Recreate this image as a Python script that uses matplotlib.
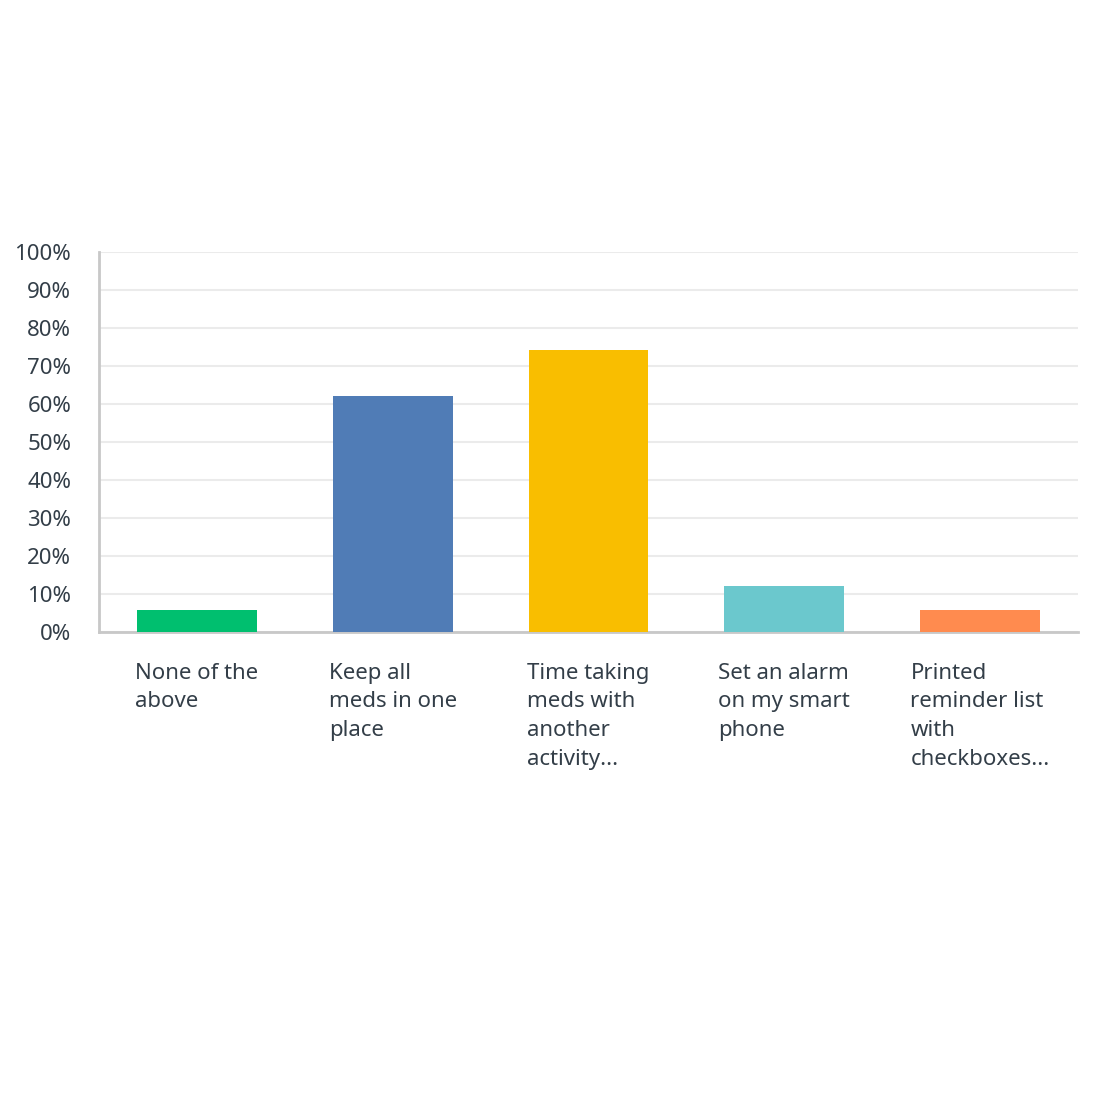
import matplotlib
matplotlib.use("Agg")
import matplotlib.pyplot as plt
from matplotlib.ticker import FuncFormatter, MultipleLocator

categories = ["None of the\nabove", "Keep all\nmeds in one\nplace", "Time taking\nmeds with\nanother\nactivity...",
              "Set an alarm\non my smart\nphone", "Printed\nreminder list\nwith\ncheckboxes..."]
values = [5.9, 62.2, 74.2, 12.2, 5.9]
colors = ["#00bf6f", "#507cb6", "#f9be00", "#6bc8cd", "#ff8b4f"]

plt.rcParams['font.family'] = ['Noto Sans', 'DejaVu Sans']
text_color = "#333e48"

fig = plt.figure(figsize=(11, 11), dpi=100)
ax = fig.add_axes([0.09, 0.4255, 0.89, 0.3455])
x = list(range(len(categories)))
ax.bar(x, values, width=0.612, color=colors, zorder=3)
ax.set_xlim(-0.5, len(categories) - 0.5)
ax.set_ylim(0, 100)
ax.yaxis.set_major_locator(MultipleLocator(10))
ax.yaxis.set_major_formatter(FuncFormatter(lambda v, p: f"{int(v)}%"))
ax.grid(axis='y', color="#ebebeb", linewidth=1.5, zorder=0)
for s in ['top', 'right']:
    ax.spines[s].set_visible(False)
for s in ['left', 'bottom']:
    ax.spines[s].set_color("#c8c8c8")
    ax.spines[s].set_linewidth(2)
ax.tick_params(axis='both', length=0, labelsize=16, labelcolor=text_color)
ax.tick_params(axis='y', pad=20)
ax.tick_params(axis='x', pad=22)
ax.set_xticks(x)
ax.set_xticklabels(categories, multialignment='left', linespacing=1.48, va='top')
fig.savefig("out.png", dpi=100, facecolor="white")
